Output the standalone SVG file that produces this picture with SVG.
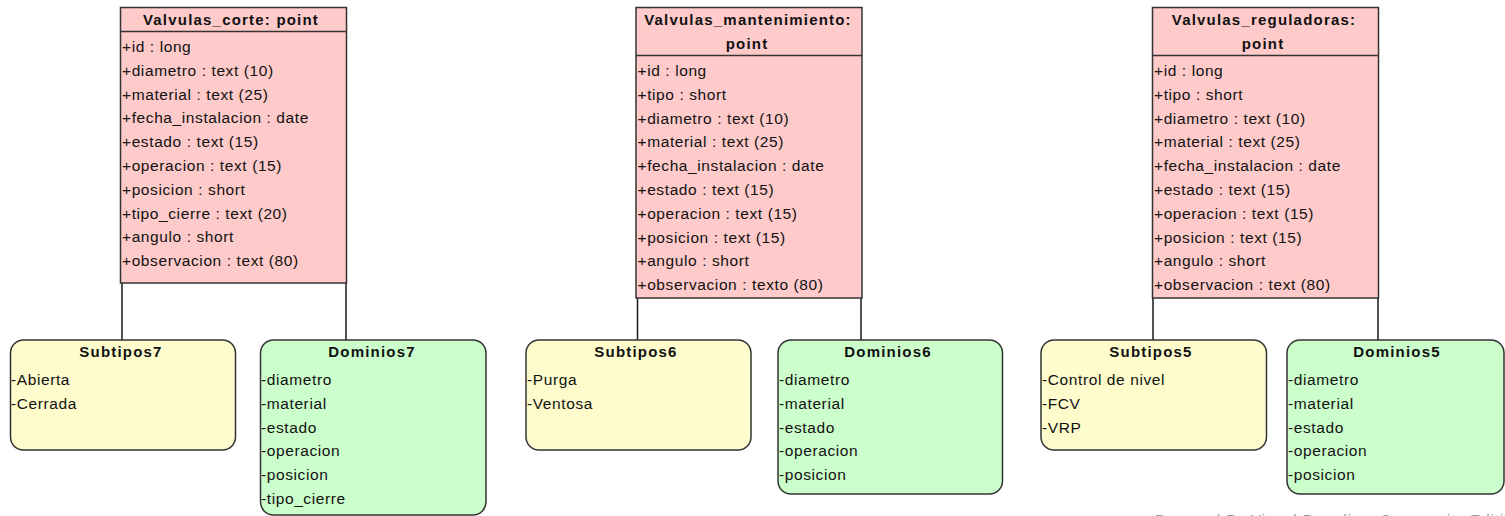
<svg xmlns="http://www.w3.org/2000/svg" width="1505" height="516" viewBox="0 0 1505 516">
  <style>
    .cls { fill: #ffcaca; stroke: #333; stroke-width: 1.5; }
    .sub { fill: #fefbcc; stroke: #333; stroke-width: 1.5; }
    .dom { fill: #ccfecc; stroke: #333; stroke-width: 1.5; }
    .sep { stroke: #333; stroke-width: 1.5; }
    .link { stroke: #1a1a1a; stroke-width: 1.5; fill: none; }
    text { font-family: "Liberation Sans", Arial, sans-serif; font-size: 15.5px; fill: #111; letter-spacing: 0.6px; }
    .title { font-size: 15px; font-weight: bold; text-anchor: middle; letter-spacing: 1.2px; }
    .mark { fill: #9a9a9a; font-size: 15px; letter-spacing: 1px; }
  </style>

  <!-- connectors between each class and its subtype / domain boxes -->
  <g id="connectors">
    <line class="link" x1="122" y1="283" x2="122" y2="340"/>
    <line class="link" x1="346" y1="283" x2="346" y2="340"/>
    <line class="link" x1="637.5" y1="298" x2="637.5" y2="340"/>
    <line class="link" x1="861" y1="298" x2="861" y2="340"/>
    <line class="link" x1="1153" y1="298" x2="1153" y2="340"/>
    <line class="link" x1="1378" y1="298" x2="1378" y2="340"/>
  </g>

  <!-- Valvulas_corte -->
  <g id="valvulas_corte">
    <rect class="cls" x="120.5" y="7.5" width="226" height="275.5"/>
    <line class="sep" x1="120.5" y1="31.5" x2="346.5" y2="31.5"/>
    <text class="title" x="231" y="25">Valvulas_corte: point</text>
    <text x="122" y="52">+id : long</text>
    <text x="122" y="75.8">+diametro : text (10)</text>
    <text x="122" y="99.6">+material : text (25)</text>
    <text x="122" y="123.4">+fecha_instalacion : date</text>
    <text x="122" y="147.2">+estado : text (15)</text>
    <text x="122" y="171">+operacion : text (15)</text>
    <text x="122" y="194.8">+posicion : short</text>
    <text x="122" y="218.6">+tipo_cierre : text (20)</text>
    <text x="122" y="242.4">+angulo : short</text>
    <text x="122" y="266.2">+observacion : text (80)</text>
  </g>

  <!-- Valvulas_mantenimiento -->
  <g id="valvulas_mantenimiento">
    <rect class="cls" x="636" y="7.5" width="226" height="290.5"/>
    <line class="sep" x1="636" y1="55.5" x2="862" y2="55.5"/>
    <text class="title" x="748" y="25">Valvulas_mantenimiento:</text>
    <text class="title" x="747" y="48.5">point</text>
    <text x="637.5" y="76">+id : long</text>
    <text x="637.5" y="99.8">+tipo : short</text>
    <text x="637.5" y="123.6">+diametro : text (10)</text>
    <text x="637.5" y="147.4">+material : text (25)</text>
    <text x="637.5" y="171.2">+fecha_instalacion : date</text>
    <text x="637.5" y="195">+estado : text (15)</text>
    <text x="637.5" y="218.8">+operacion : text (15)</text>
    <text x="637.5" y="242.6">+posicion : text (15)</text>
    <text x="637.5" y="266.4">+angulo : short</text>
    <text x="637.5" y="290.2">+observacion : texto (80)</text>
  </g>

  <!-- Valvulas_reguladoras -->
  <g id="valvulas_reguladoras">
    <rect class="cls" x="1152.5" y="7.5" width="226" height="290.5"/>
    <line class="sep" x1="1152.5" y1="55.5" x2="1378.5" y2="55.5"/>
    <text class="title" x="1264" y="25">Valvulas_reguladoras:</text>
    <text class="title" x="1263" y="48.5">point</text>
    <text x="1154" y="76">+id : long</text>
    <text x="1154" y="99.8">+tipo : short</text>
    <text x="1154" y="123.6">+diametro : text (10)</text>
    <text x="1154" y="147.4">+material : text (25)</text>
    <text x="1154" y="171.2">+fecha_instalacion : date</text>
    <text x="1154" y="195">+estado : text (15)</text>
    <text x="1154" y="218.8">+operacion : text (15)</text>
    <text x="1154" y="242.6">+posicion : text (15)</text>
    <text x="1154" y="266.4">+angulo : short</text>
    <text x="1154" y="290.2">+observacion : text (80)</text>
  </g>

  <!-- Subtype and domain boxes -->
  <g id="subtipos7">
    <rect class="sub" x="10.5" y="340" width="225" height="110" rx="13"/>
    <text class="title" x="121" y="357">Subtipos7</text>
    <text x="11" y="385">-Abierta</text>
    <text x="11" y="408.8">-Cerrada</text>
  </g>

  <g id="dominios7">
    <rect class="dom" x="260.5" y="340" width="225.5" height="175" rx="13"/>
    <text class="title" x="372" y="357">Dominios7</text>
    <text x="261" y="385">-diametro</text>
    <text x="261" y="408.8">-material</text>
    <text x="261" y="432.6">-estado</text>
    <text x="261" y="456.4">-operacion</text>
    <text x="261" y="480.2">-posicion</text>
    <text x="261" y="504">-tipo_cierre</text>
  </g>

  <g id="subtipos6">
    <rect class="sub" x="526" y="340" width="225" height="110" rx="13"/>
    <text class="title" x="636" y="357">Subtipos6</text>
    <text x="527" y="385">-Purga</text>
    <text x="527" y="408.8">-Ventosa</text>
  </g>

  <g id="dominios6">
    <rect class="dom" x="778" y="340" width="224.5" height="154" rx="13"/>
    <text class="title" x="888" y="357">Dominios6</text>
    <text x="779" y="385">-diametro</text>
    <text x="779" y="408.8">-material</text>
    <text x="779" y="432.6">-estado</text>
    <text x="779" y="456.4">-operacion</text>
    <text x="779" y="480.2">-posicion</text>
  </g>

  <g id="subtipos5">
    <rect class="sub" x="1041" y="340" width="225.5" height="110" rx="13"/>
    <text class="title" x="1151" y="357">Subtipos5</text>
    <text x="1042" y="385">-Control de nivel</text>
    <text x="1042" y="408.8">-FCV</text>
    <text x="1042" y="432.6">-VRP</text>
  </g>

  <g id="dominios5">
    <rect class="dom" x="1287" y="340" width="217" height="154" rx="13"/>
    <text class="title" x="1397" y="357">Dominios5</text>
    <text x="1288" y="385">-diametro</text>
    <text x="1288" y="408.8">-material</text>
    <text x="1288" y="432.6">-estado</text>
    <text x="1288" y="456.4">-operacion</text>
    <text x="1288" y="480.2">-posicion</text>
  </g>

  <text class="mark" x="1155" y="524.5">Powered By Visual Paradigm Community Edition</text>
</svg>
